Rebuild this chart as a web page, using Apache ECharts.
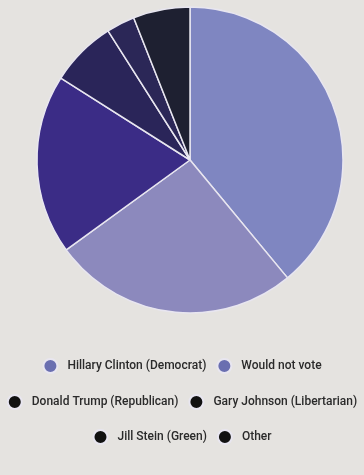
<!DOCTYPE html>
<html><head><meta charset="utf-8">
<script src="https://cdn.jsdelivr.net/npm/echarts@6/dist/echarts.min.js"></script>
<style>html,body{margin:0;padding:0;background:#e5e3e0;}#c{width:364px;height:475px;}</style>
</head><body><div id="c"></div>
<script>
const categories = ["Hillary Clinton (Democrat)", "Would not vote", "Donald Trump (Republican)", "Gary Johnson (Libertarian)", "Jill Stein (Green)", "Other"];
const values = [39, 26, 19, 7, 3, 6];
const sliceColors = ["#7f86c1", "#8c89bd", "#3b2c86", "#2a2559", "#2b2757", "#1e2031"];
const legendIconColors = ["#6a6fb0", "#6a6fb0", "#111111", "#111111", "#111111", "#111111"];

const chart = echarts.init(document.getElementById('c'));
const legendRows = [[0,1],[2,3],[4,5]];
const rowTops = [353, 389, 424];
const legends = legendRows.map((row, i) => ({
  top: rowTops[i], left: 'center', orient: 'horizontal',
  itemWidth: 14, itemHeight: 14, itemGap: 10, icon: 'circle',
  textStyle: {fontFamily: 'Roboto', fontSize: 12, fontWeight: 500, color: '#2a2a2a', padding: [0,0,0,5]},
  data: row.map(k => ({name: categories[k], itemStyle: {color: legendIconColors[k]}}))
}));
chart.setOption({
  backgroundColor: '#e5e3e0',
  animation: false,
  legend: legends,
  series: [{
    type: 'pie', center: [190, 160], radius: 153, startAngle: 90, clockwise: true,
    label: {show: false}, labelLine: {show: false},
    itemStyle: {borderColor: '#e8e6f0', borderWidth: 1.5},
    data: categories.map((c, k) => ({name: c, value: values[k], itemStyle: {color: sliceColors[k]}}))
  }]
});
</script></body></html>
